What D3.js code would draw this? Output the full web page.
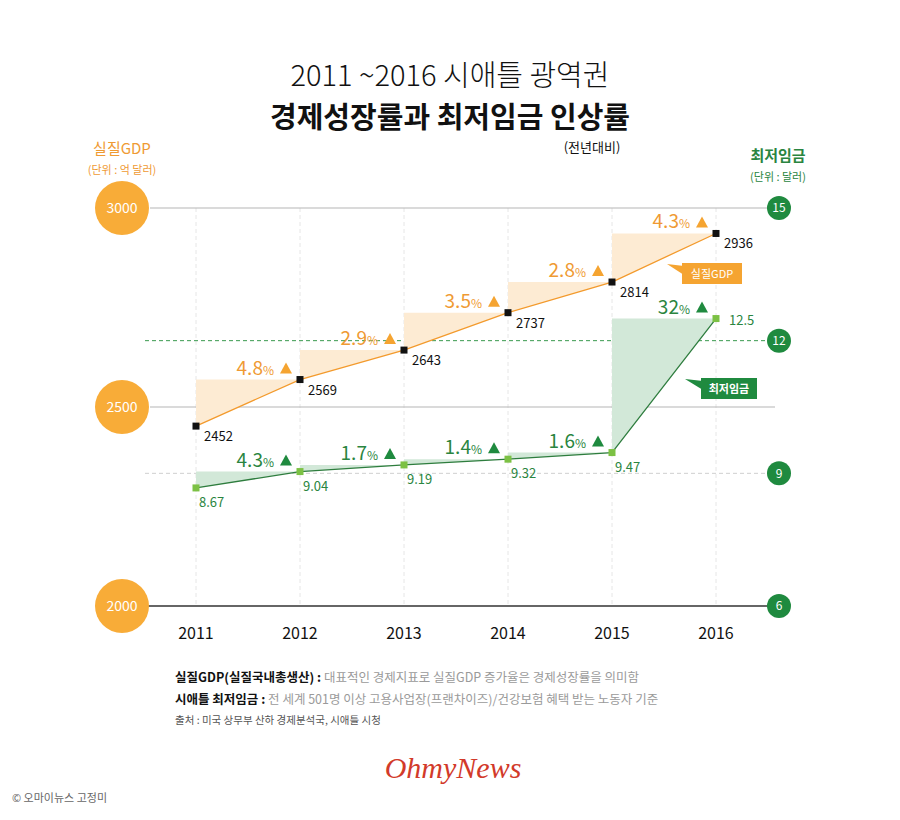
<!DOCTYPE html>
<html><head><meta charset="utf-8">
<script src="https://cdn.jsdelivr.net/npm/d3@7"></script>
<style>
body{margin:0;background:#fff;}
svg{display:block;font-family:"Noto Sans CJK KR","Noto Sans",sans-serif;}
</style></head>
<body><svg id="chart" width="900" height="820"></svg>
<script>
const years = ["2011","2012","2013","2014","2015","2016"];
const gdp = [2452, 2569, 2643, 2737, 2814, 2936];
const wage = [8.67, 9.04, 9.19, 9.32, 9.47, 12.5];
const gdpPct = ["4.8","2.9","3.5","2.8","4.3"];
const wagePct = ["4.3","1.7","1.4","1.6","32"];
const gdpTicks = [2000, 2500, 3000];
const wageTicks = [6, 9, 12, 15];

const ORANGE = "#f5a431", ORANGE_T = "#ef9a33", ORANGE_F = "#fdebd3";
const GREEN = "#1f8a3f", GREEN_T = "#2a8540", GREEN_F = "#d2e8d8", GREEN_PT = "#7cc144";

const svg = d3.select("#chart");
const x = d3.scalePoint().domain(years).range([196, 716]);
const yG = d3.scaleLinear().domain([2000, 3000]).range([606, 208]);
const yW = d3.scaleLinear().domain([6, 15]).range([606, 208]);

// Title
svg.append("text").attr("x",450).attr("y",86).attr("text-anchor","middle")
  .attr("font-size",29).attr("font-weight",300).attr("fill","#111").text("2011 ~2016 시애틀 광역권");
svg.append("text").attr("x",450).attr("y",128).attr("text-anchor","middle")
  .attr("font-size",29).attr("font-weight",700).attr("fill","#111").text("경제성장률과 최저임금 인상률");
svg.append("text").attr("x",592).attr("y",152).attr("text-anchor","middle")
  .attr("font-size",13).attr("fill","#111").text("(전년대비)");

// Axis headers
svg.append("text").attr("x",122).attr("y",154).attr("text-anchor","middle")
  .attr("font-size",15).attr("fill",ORANGE_T).text("실질GDP");
svg.append("text").attr("x",122).attr("y",174).attr("text-anchor","middle")
  .attr("font-size",11).attr("fill",ORANGE_T).text("(단위 : 억 달러)");
svg.append("text").attr("x",778).attr("y",161).attr("text-anchor","middle")
  .attr("font-size",15).attr("font-weight",700).attr("fill",GREEN_T).text("최저임금");
svg.append("text").attr("x",778).attr("y",181).attr("text-anchor","middle")
  .attr("font-size",11).attr("fill",GREEN_T).text("(단위 : 달러)");

// vertical dashed grid
svg.append("g").selectAll("line").data(years).join("line")
  .attr("x1",d=>x(d)).attr("x2",d=>x(d)).attr("y1",yG(3000)).attr("y2",yG(2000))
  .attr("stroke","#e6e6e6").attr("stroke-dasharray","4,3");

// horizontal lines
svg.append("line").attr("x1",150).attr("x2",768).attr("y1",yG(3000)).attr("y2",yG(3000)).attr("stroke","#b5b5b5").attr("stroke-width",1.2);
svg.append("line").attr("x1",150).attr("x2",775).attr("y1",yG(2500)).attr("y2",yG(2500)).attr("stroke","#b5b5b5").attr("stroke-width",1.2);
svg.append("line").attr("x1",145).attr("x2",768).attr("y1",yW(12)).attr("y2",yW(12)).attr("stroke","#3a9a4f").attr("stroke-dasharray","4,3");
svg.append("line").attr("x1",145).attr("x2",768).attr("y1",yW(9)).attr("y2",yW(9)).attr("stroke","#cfcfcf").attr("stroke-dasharray","4,3");
svg.append("line").attr("x1",123).attr("x2",770).attr("y1",yG(2000)).attr("y2",yG(2000)).attr("stroke","#333").attr("stroke-width",1.6);

// areas (triangles)
const tri = (vals, ys) => d3.range(vals.length-1).map(i => [
  [x(years[i]), ys(vals[i+1])],[x(years[i+1]), ys(vals[i+1])],[x(years[i]), ys(vals[i])]
]);
svg.append("g").selectAll("path").data(tri(gdp,yG)).join("path")
  .attr("d",d=>d3.line()(d)+"Z").attr("fill",ORANGE_F);
svg.append("g").selectAll("path").data(tri(wage,yW)).join("path")
  .attr("d",d=>d3.line()(d)+"Z").attr("fill",GREEN_F);

// lines
svg.append("path").datum(gdp).attr("fill","none").attr("stroke","#f39a2c").attr("stroke-width",1.3)
  .attr("d",d3.line().x((d,i)=>x(years[i])).y(d=>yG(d)));
svg.append("path").datum(wage).attr("fill","none").attr("stroke","#2e7d3e").attr("stroke-width",1.3)
  .attr("d",d3.line().x((d,i)=>x(years[i])).y(d=>yW(d)));

// points
svg.append("g").selectAll("rect").data(gdp).join("rect")
  .attr("x",(d,i)=>x(years[i])-3.5).attr("y",d=>yG(d)-3.5).attr("width",7).attr("height",7).attr("fill","#111");
svg.append("g").selectAll("rect").data(wage).join("rect")
  .attr("x",(d,i)=>x(years[i])-3.5).attr("y",d=>yW(d)-3.5).attr("width",7).attr("height",7).attr("fill",GREEN_PT);

// value labels
svg.append("g").selectAll("text").data(gdp).join("text")
  .attr("x",(d,i)=>x(years[i])+8).attr("y",d=>yG(d)+15)
  .attr("font-size",13).attr("fill","#111").text(d=>d);
svg.append("g").selectAll("text").data(wage).join("text")
  .attr("x",(d,i)=> i===5 ? x(years[i])+13 : x(years[i])+3)
  .attr("y",(d,i)=> i===5 ? yW(d)+6 : yW(d)+19)
  .attr("font-size",13).attr("fill",GREEN_T).text(d=>d);

// pct labels
function pctLabels(pcts, vals, ys, color, tcolor) {
  const g = svg.append("g");
  pcts.forEach((p,i)=>{
    const xr = x(years[i+1]) - 8;
    const yb = ys(vals[i+1]) - 5;
    g.append("path").attr("d", `M${xr},${yb-1} L${xr-12},${yb-1} L${xr-6},${yb-12} Z`).attr("fill",color);
    const t = g.append("text").attr("x",xr-18).attr("y",yb).attr("text-anchor","end").attr("fill",tcolor);
    t.append("tspan").attr("font-size",19).text(p);
    t.append("tspan").attr("font-size",12).text("%");
  });
}
pctLabels(gdpPct, gdp, yG, ORANGE, ORANGE_T);
pctLabels(wagePct, wage, yW, GREEN, GREEN_T);

// callouts
svg.append("path").attr("d","M667,264 L684,266 L684,275 Z").attr("fill",ORANGE);
svg.append("rect").attr("x",682).attr("y",263).attr("width",60).attr("height",21).attr("fill",ORANGE);
svg.append("text").attr("x",712).attr("y",278).attr("text-anchor","middle").attr("font-size",11).attr("fill","#fff").text("실질GDP");
svg.append("path").attr("d","M685,379 L703,381 L703,390 Z").attr("fill",GREEN);
svg.append("rect").attr("x",701).attr("y",378).attr("width",56).attr("height",21).attr("fill",GREEN);
svg.append("text").attr("x",729).attr("y",393).attr("text-anchor","middle").attr("font-size",11).attr("font-weight",700).attr("fill","#fff").text("최저임금");

// left axis circles
const lg = svg.append("g").selectAll("g").data(gdpTicks).join("g")
  .attr("transform",d=>`translate(122,${yG(d)})`);
lg.append("circle").attr("r",27).attr("fill","#f8ac38");
lg.append("text").attr("text-anchor","middle").attr("dy","0.35em").attr("font-size",14).attr("fill","#fff").text(d=>d);

// right axis circles
const rg = svg.append("g").selectAll("g").data(wageTicks).join("g")
  .attr("transform",d=>`translate(779,${yW(d)})`);
rg.append("circle").attr("r",12).attr("fill",GREEN);
rg.append("text").attr("text-anchor","middle").attr("dy","0.35em").attr("font-size",12).attr("fill","#fff").text(d=>d);

// x axis labels
svg.append("g").selectAll("text").data(years).join("text")
  .attr("x",d=>x(d)).attr("y",639).attr("text-anchor","middle").attr("font-size",16).attr("fill","#111").text(d=>d);

// footnotes
const f1 = svg.append("text").attr("x",175).attr("y",682).attr("font-size",12.5);
f1.append("tspan").attr("font-weight",700).attr("fill","#111").text("실질GDP(실질국내총생산) : ");
f1.append("tspan").attr("fill","#9a9a9a").text("대표적인 경제지표로 실질GDP 증가율은 경제성장률을 의미함");
const f2 = svg.append("text").attr("x",175).attr("y",704).attr("font-size",12.5);
f2.append("tspan").attr("font-weight",700).attr("fill","#111").text("시애틀 최저임금 : ");
f2.append("tspan").attr("fill","#9a9a9a").text("전 세계 501명 이상 고용사업장(프랜차이즈)/건강보험 혜택 받는 노동자 기준");
svg.append("text").attr("x",175).attr("y",724).attr("font-size",10.5).attr("fill","#555").text("출처 : 미국 상무부 산하 경제분석국, 시애틀 시청");

// logo
svg.append("text").attr("x",453).attr("y",778).attr("text-anchor","middle")
  .attr("font-family","'Liberation Serif',serif").attr("font-style","italic")
  .attr("font-size",30).attr("fill","#d23a2a").text("OhmyNews");

svg.append("text").attr("x",12).attr("y",802).attr("font-size",11).attr("fill","#666").text("© 오마이뉴스 고정미");
</script>
</body></html>
